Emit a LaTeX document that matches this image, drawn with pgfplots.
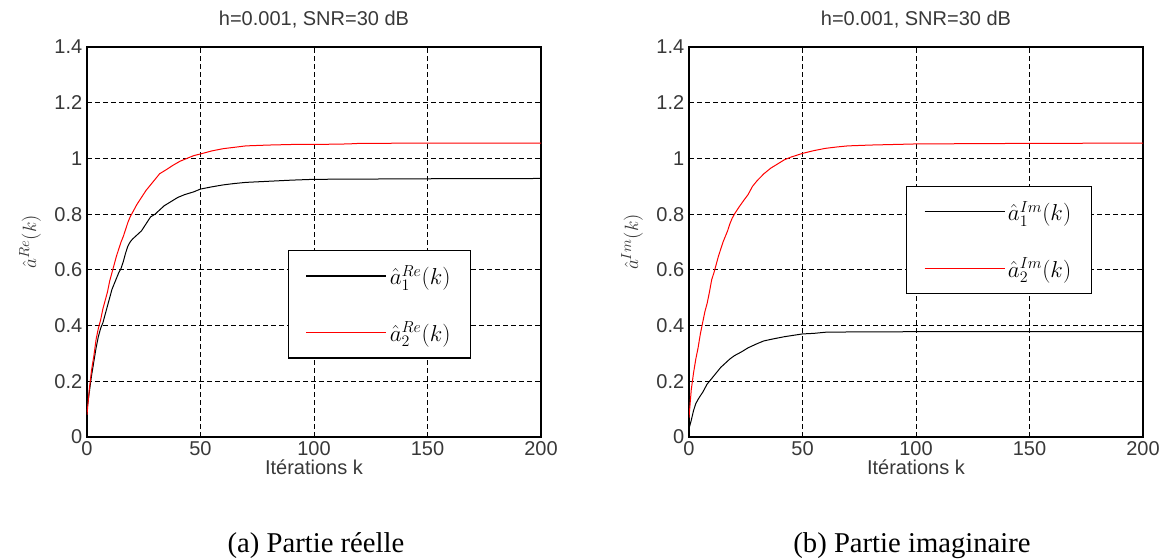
\documentclass[border=0pt]{standalone}
\usepackage{fontspec}
\setmainfont{Liberation Serif}
\newfontfamily\axisfont{Liberation Sans}
\usepackage{pgfplots}
\pgfplotsset{compat=1.18}

\pgfplotsset{
  estplot/.style={
    scale only axis,
    width=340.5pt, height=292.5pt,
    xmin=0, xmax=200, ymin=0, ymax=1.4,
    xtick={0,50,...,200},
    ytick={0,0.2,...,1.4},
    yticklabels={0,0.2,0.4,0.6,0.8,1,1.2,1.4},
    tick align=inside,
    major tick length=3.5pt,
    axis line style={line width=0.9pt},
    every tick/.style={black, line width=0.7pt},
    grid=major,
    major grid style={black, line width=0.75pt, dash pattern=on 3.4pt off 2.6pt},
    /pgf/number format/assume math mode=true,
    tick label style={font=\axisfont\fontsize{15}{17}\selectfont, text=black!78},
    label style={font=\axisfont\fontsize{15}{17}\selectfont, text=black!78},
    title style={font=\axisfont\fontsize{15}{17}\selectfont, text=black!78,
                 at={(axis description cs:0.5,1.051)}, anchor=center},
    xlabel style={at={(axis description cs:0.5,-0.077)}, anchor=center},
    ylabel style={at={(axis description cs:-0.1256,0.5)}, anchor=center,
                  font=\fontsize{15}{17}\selectfont},
    xlabel={Itérations k},
    title={h=0.001, SNR=30 dB},
    legend cell align=left,
    legend image code/.code={\draw[#1, line width=1pt] (0pt,0pt) -- (60pt,0pt);},
    legend style={draw=black, line width=0.9pt, fill=white,
                  font=\fontsize{17}{19}\selectfont,
                  inner xsep=13pt, inner ysep=9pt, row sep=22.5pt,
                  /tikz/every even column/.append style={column sep=4pt}},
  },
  curveblk/.style={draw=black, line width=0.75pt},
  curvered/.style={draw=red, line width=0.75pt},
}

\begin{document}
\begin{tikzpicture}[x=0.75pt, y=0.75pt]
\path[use as bounding box] (0,0) rectangle (1168,560);

% (a) real part
\begin{axis}[estplot, at={(65.25pt,92.25pt)}, anchor=origin,
  ylabel={$\hat{a}^{Re}(k)$},
  legend style={at={(axis cs:88.5,0.671)}, anchor=north west}]
\addplot[curveblk] coordinates {
(0,0.10) (1,0.16) (2,0.22) (3,0.27) (4,0.32) (5,0.36) (6,0.39) (7,0.41)
(8,0.44) (9,0.47) (10,0.50) (11,0.53) (12,0.55) (13,0.57) (14,0.59)
(15,0.605) (16,0.63) (17,0.66) (18,0.685) (19,0.70) (20,0.71) (22,0.725)
(24,0.74) (26,0.765) (28,0.79) (30,0.80) (32,0.815) (34,0.83) (37,0.845)
(40,0.86) (43,0.87) (47,0.88) (50,0.89) (55,0.898) (60,0.905) (65,0.91)
(70,0.914) (80,0.918) (90,0.922) (100,0.925) (150,0.927) (200,0.928)};
\addlegendentry{$\hat{a}_1^{Re}(k)$}
\addplot[curvered] coordinates {
(0,0.08) (1,0.17) (2,0.24) (3,0.29) (4,0.35) (5,0.39) (6,0.42) (7,0.46)
(8,0.49) (9,0.52) (10,0.56) (11,0.59) (12,0.62) (13,0.65) (14,0.675)
(15,0.70) (16,0.72) (17,0.745) (18,0.77) (19,0.79) (20,0.805) (22,0.835)
(24,0.86) (26,0.885) (28,0.905) (30,0.925) (32,0.945) (35,0.96) (38,0.976)
(41,0.99) (44,1.0) (47,1.01) (50,1.016) (55,1.027) (60,1.035) (65,1.04)
(70,1.045) (80,1.048) (90,1.05) (100,1.05) (115,1.052) (120,1.054)
(150,1.055) (200,1.055)};
\addlegendentry{$\hat{a}_2^{Re}(k)$}
\end{axis}

% (b) imaginary part
\begin{axis}[estplot, at={(516.75pt,92.25pt)}, anchor=origin,
  ylabel={$\hat{a}^{Im}(k)$},
  legend style={at={(axis cs:95.6,0.904)}, anchor=north west, yshift=-0.5pt}]
\addplot[curveblk] coordinates {
(0,0.03) (1,0.06) (2,0.095) (3,0.12) (4,0.135) (5,0.148) (6,0.16) (7,0.175)
(8,0.19) (10,0.21) (12,0.23) (14,0.25) (16,0.265) (18,0.28) (20,0.292)
(23,0.305) (26,0.32) (30,0.335) (33,0.345) (37,0.352) (42,0.36) (46,0.365)
(50,0.37) (55,0.372) (60,0.376) (70,0.377) (100,0.378) (200,0.378)};
\addlegendentry{$\hat{a}_1^{Im}(k)$}
\addplot[curvered] coordinates {
(0,0.07) (1,0.17) (2,0.23) (3,0.28) (4,0.32) (5,0.37) (6,0.41) (7,0.45)
(8,0.48) (9,0.52) (10,0.565) (11,0.59) (12,0.62) (13,0.65) (14,0.675)
(15,0.70) (16,0.72) (17,0.74) (18,0.765) (19,0.785) (20,0.80) (22,0.825)
(24,0.848) (26,0.87) (28,0.90) (30,0.92) (33,0.945) (36,0.965) (39,0.98)
(42,0.995) (45,1.005) (50,1.018) (55,1.028) (60,1.036) (65,1.041)
(70,1.045) (80,1.048) (90,1.05) (100,1.052) (150,1.054) (200,1.055)};
\addlegendentry{$\hat{a}_2^{Im}(k)$}
\end{axis}

% sub-figure captions
\node[font=\fontsize{21.5}{24}\selectfont] at (316,14) {(a) Partie réelle};
\node[font=\fontsize{21.5}{24}\selectfont] at (912,14) {(b) Partie imaginaire};
\end{tikzpicture}
\end{document}
